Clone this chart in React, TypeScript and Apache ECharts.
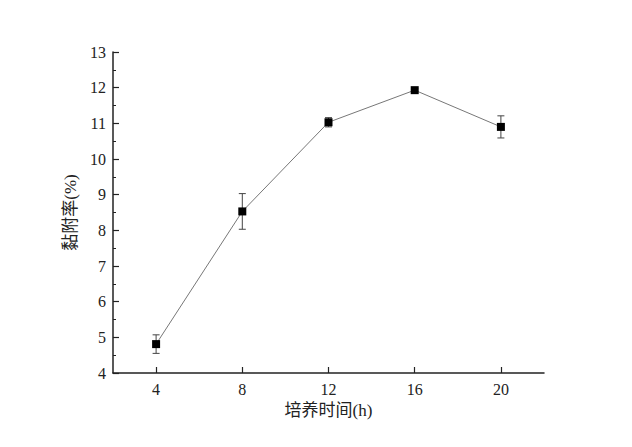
import React, { useEffect, useRef } from "react";
import * as echarts from "echarts";

const hours = [4, 8, 12, 16, 20];
const adhesion = [4.81, 8.53, 11.03, 11.93, 10.9];
const errors = [0.26, 0.5, 0.13, 0.05, 0.31];
const xTicks = [4, 8, 12, 16, 20];
const yTicks = [4, 5, 6, 7, 8, 9, 10, 11, 12, 13];

const serif = "'Liberation Serif', 'Times New Roman', 'Noto Sans CJK SC', serif";

export default function App() {
  const ref = useRef<HTMLDivElement>(null);
  useEffect(() => {
    if (!ref.current) return;
    const chart = echarts.init(ref.current, null, { renderer: "svg" });
    const lineData = hours.map((h, i) => [h, adhesion[i]]);
    const errData = hours.map((h, i) => [h, adhesion[i] - errors[i], adhesion[i] + errors[i]]);
    chart.setOption({
      animation: false,
      backgroundColor: "#fff",
      grid: { left: 113, right: 88, top: 52, bottom: 74 },
      xAxis: {
        type: "value",
        min: 2,
        max: 22,
        interval: 2,
        name: "培养时间(h)",
        nameLocation: "middle",
        nameGap: 28,
        nameTextStyle: { fontFamily: serif, fontSize: 17, color: "#222" },
        axisLine: { show: true, onZero: false, lineStyle: { color: "#222", width: 1.5 } },
        axisTick: {
          show: true,
          inside: true,
          length: 6,
          lineStyle: { color: "#222", width: 1.2 },
          customValues: xTicks,
        },
        axisLabel: {
          fontFamily: serif,
          fontSize: 16,
          color: "#222",
          margin: 8,
          customValues: xTicks,
        },
        splitLine: { show: false },
      },
      yAxis: {
        type: "value",
        min: 4,
        max: 13,
        interval: 1,
        name: "黏附率(%)",
        nameLocation: "middle",
        nameGap: 30,
        nameTextStyle: { fontFamily: serif, fontSize: 17, color: "#222" },
        axisLine: { show: true, lineStyle: { color: "#222", width: 1.5 } },
        axisTick: { show: true, inside: true, length: 6, lineStyle: { color: "#222", width: 1.2 } },
        minorTick: { show: true, splitNumber: 2, length: 3, lineStyle: { color: "#222", width: 1 } },
        axisLabel: {
          fontFamily: serif,
          fontSize: 16,
          color: "#222",
          margin: 7,
          customValues: yTicks,
        },
        splitLine: { show: false },
      },
      series: [
        {
          type: "custom",
          data: errData,
          z: 1,
          renderItem: (params: any, api: any) => {
            const x = api.value(0);
            const lo = api.coord([x, api.value(1)]);
            const hi = api.coord([x, api.value(2)]);
            const cap = 3.5;
            const style = { stroke: "#444", lineWidth: 1 };
            return {
              type: "group",
              children: [
                { type: "line", shape: { x1: lo[0], y1: lo[1], x2: hi[0], y2: hi[1] }, style },
                { type: "line", shape: { x1: lo[0] - cap, y1: lo[1], x2: lo[0] + cap, y2: lo[1] }, style },
                { type: "line", shape: { x1: hi[0] - cap, y1: hi[1], x2: hi[0] + cap, y2: hi[1] }, style },
              ],
            };
          },
        },
        {
          type: "line",
          data: lineData,
          z: 2,
          symbol: "rect",
          symbolSize: 8,
          itemStyle: { color: "#000" },
          lineStyle: { color: "#777", width: 1 },
        },
      ],
    });
    return () => chart.dispose();
  }, []);
  return (
    <div
      ref={ref}
      style={{ position: "fixed", left: 0, top: 0, width: 632, height: 447 }}
    />
  );
}
